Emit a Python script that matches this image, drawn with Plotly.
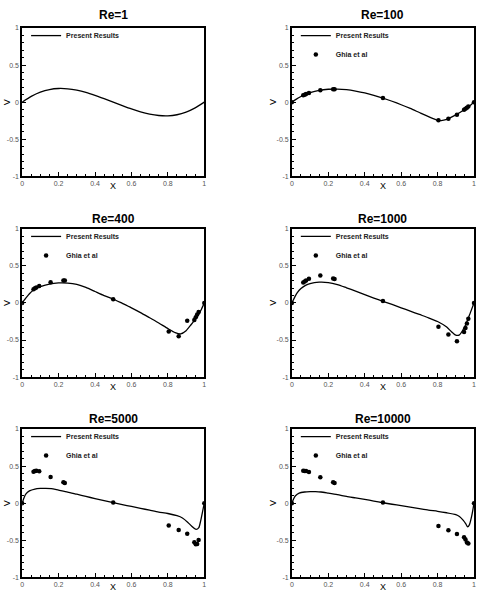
import plotly.graph_objects as go

W, H = 478, 602

# ---------------- data ----------------
titles = ["Re=1", "Re=100", "Re=400", "Re=1000", "Re=5000", "Re=10000"]

# Ghia et al. (1982) v-velocity along horizontal centreline
ghia_x = [1.0000, 0.9688, 0.9609, 0.9531, 0.9453, 0.9063, 0.8594, 0.8047,
          0.5000, 0.2344, 0.2266, 0.1563, 0.0938, 0.0781, 0.0703, 0.0625, 0.0000]
ghia_v100 = [0.0, -0.05906, -0.07391, -0.08864, -0.10313, -0.16914, -0.22445, -0.24533,
             0.05454, 0.17527, 0.17507, 0.16077, 0.12317, 0.10890, 0.10091, 0.09233, 0.0]
ghia_v400 = [0.0, -0.12146, -0.15663, -0.19254, -0.22847, -0.23827, -0.44993, -0.38598,
             0.05188, 0.30174, 0.30203, 0.28124, 0.22965, 0.20920, 0.19713, 0.18360, 0.0]
ghia_v1000 = [0.0, -0.21388, -0.27669, -0.33714, -0.39188, -0.51550, -0.42665, -0.31966,
              0.02526, 0.32235, 0.33075, 0.37095, 0.32627, 0.30353, 0.29012, 0.27485, 0.0]
ghia_v5000 = [0.0, -0.49774, -0.55069, -0.55408, -0.52876, -0.41442, -0.36214, -0.30018,
              0.00945, 0.27280, 0.28066, 0.35368, 0.42951, 0.43648, 0.43329, 0.42447, 0.0]
ghia_v10000 = [0.0, -0.54302, -0.52987, -0.49099, -0.45863, -0.41496, -0.36737, -0.30719,
               0.00831, 0.27224, 0.28188, 0.35060, 0.41824, 0.43184, 0.43487, 0.43733, 0.0]

# Present results
p1_x = [0, 0.05, 0.1, 0.15, 0.2, 0.25, 0.3, 0.35, 0.4, 0.45, 0.5,
        0.55, 0.6, 0.65, 0.7, 0.75, 0.8, 0.85, 0.9, 0.95, 1.0]
p1_v = [0, 0.078, 0.135, 0.17, 0.184, 0.18, 0.162, 0.132, 0.092, 0.047, 0.0,
        -0.047, -0.092, -0.132, -0.162, -0.18, -0.184, -0.17, -0.135, -0.078, 0]

p100_x = [0, 0.025, 0.05, 0.0625, 0.1, 0.15, 0.2, 0.25, 0.3, 0.35, 0.4, 0.45, 0.5,
          0.55, 0.6, 0.65, 0.7, 0.75, 0.8, 0.82, 0.85, 0.9, 0.95, 0.975, 1.0]
p100_v = [0, 0.04, 0.076, 0.092, 0.127, 0.159, 0.174, 0.176, 0.168, 0.15, 0.125, 0.092, 0.055,
          0.012, -0.035, -0.085, -0.14, -0.195, -0.243, -0.248, -0.232, -0.172, -0.095, -0.05, 0]

p400_x = [0, 0.02, 0.04, 0.0625, 0.08, 0.1, 0.15, 0.2, 0.25, 0.3, 0.35, 0.4, 0.45, 0.5,
          0.55, 0.6, 0.65, 0.7, 0.75, 0.8, 0.84, 0.87, 0.9, 0.925, 0.95, 0.97, 0.985, 1.0]
p400_v = [0, 0.065, 0.125, 0.175, 0.2, 0.22, 0.255, 0.27, 0.268, 0.25, 0.21, 0.155, 0.1, 0.054,
          -0.005, -0.065, -0.13, -0.2, -0.27, -0.345, -0.4, -0.418, -0.375, -0.3, -0.22, -0.15, -0.08, 0]

p1000_x = [0, 0.01, 0.02, 0.03, 0.05, 0.075, 0.1, 0.15, 0.2, 0.25, 0.3, 0.35, 0.4, 0.45, 0.5,
           0.55, 0.6, 0.65, 0.7, 0.75, 0.8, 0.85, 0.875, 0.9, 0.92, 0.94, 0.96, 0.98, 1.0]
p1000_v = [0, 0.05, 0.1, 0.14, 0.195, 0.238, 0.262, 0.28, 0.275, 0.248, 0.205, 0.16, 0.112, 0.066, 0.022,
           -0.02, -0.065, -0.11, -0.155, -0.2, -0.25, -0.325, -0.385, -0.435, -0.43, -0.36, -0.26, -0.13, 0]

p5000_x = [0, 0.01, 0.02, 0.04, 0.07, 0.1, 0.13, 0.16, 0.2, 0.25, 0.3, 0.35, 0.4, 0.45, 0.5,
           0.55, 0.6, 0.65, 0.7, 0.75, 0.8, 0.85, 0.88, 0.91, 0.93, 0.955, 0.97, 0.98, 0.99, 1.0]
p5000_v = [0, 0.07, 0.12, 0.165, 0.19, 0.198, 0.2, 0.195, 0.175, 0.15, 0.12, 0.09, 0.062, 0.035, 0.006,
           -0.02, -0.045, -0.07, -0.095, -0.12, -0.14, -0.17, -0.2, -0.26, -0.31, -0.355, -0.33, -0.24, -0.12, 0]

p10000_x = [0, 0.01, 0.02, 0.04, 0.07, 0.1, 0.13, 0.16, 0.2, 0.25, 0.3, 0.35, 0.4, 0.45, 0.5,
            0.55, 0.6, 0.65, 0.7, 0.75, 0.8, 0.85, 0.9, 0.92, 0.94, 0.955, 0.965, 0.975, 0.985, 0.993, 1.0]
p10000_v = [0, 0.06, 0.1, 0.135, 0.15, 0.155, 0.155, 0.15, 0.135, 0.115, 0.09, 0.07, 0.05, 0.028, 0.005,
            -0.015, -0.035, -0.055, -0.075, -0.095, -0.11, -0.13, -0.155, -0.18, -0.23, -0.28, -0.32, -0.29, -0.2, -0.1, 0]

present = [(p1_x, p1_v), (p100_x, p100_v), (p400_x, p400_v),
           (p1000_x, p1000_v), (p5000_x, p5000_v), (p10000_x, p10000_v)]
ghia = [None, ghia_v100, ghia_v400, ghia_v1000, ghia_v5000, ghia_v10000]

x_ticks = [0, 0.2, 0.4, 0.6, 0.8, 1]
x_ticklabels = ["0", "0.2", "0.4", "0.6", "0.8", "1"]
y_ticks = [-1, -0.5, 0, 0.5, 1]
y_ticklabels = ["-1", "-0.5", "0", "0.5", "1"]
x_title = "X"
y_title = "V"

# ---------------- layout geometry (pixels) ----------------
col_px = [(20.3, 204.0), (292.3, 476.0)]
row_px = [(24.3, 174.3), (227.5, 377.5), (430.0, 580.0)]
title_shift = [13, 10, 10]
vshift = [-15, -19]
FONT = "Liberation Sans, Arial, sans-serif"

fig = go.Figure()
layout = dict(
    width=W, height=H, margin=dict(l=0, r=0, t=0, b=0),
    paper_bgcolor="white", plot_bgcolor="white",
    font=dict(family=FONT, color="black"),
    annotations=[],
)

for i in range(6):
    r, c = divmod(i, 2)
    n = i + 1
    xa = "x" if n == 1 else f"x{n}"
    ya = "y" if n == 1 else f"y{n}"
    lg = "legend" if n == 1 else f"legend{n}"
    x0, x1 = col_px[c]
    yt, yb = row_px[r]
    xdom = [x0 / W, x1 / W]
    ydom = [1 - yb / H, 1 - yt / H]

    px, pv = present[i]
    fig.add_trace(go.Scatter(
        x=px, y=pv, mode="lines", name="Present Results",
        line=dict(color="black", width=1.3, shape="spline", smoothing=0.6),
        xaxis=xa, yaxis=ya, legend=lg, showlegend=True))
    if ghia[i] is not None:
        fig.add_trace(go.Scatter(
            x=ghia_x, y=ghia[i], mode="markers", name="Ghia et al",
            marker=dict(color="black", size=4.5, symbol="circle"),
            xaxis=xa, yaxis=ya, legend=lg, showlegend=True))

    axis_common = dict(
        showline=True, linecolor="black", linewidth=1.6, mirror=True,
        showgrid=False, zeroline=False, ticks="inside", tickcolor="black",
        tickwidth=1, ticklen=4,
        tickfont=dict(size=7, color="#555555", family=FONT),
    )
    layout["xaxis" if n == 1 else f"xaxis{n}"] = dict(
        axis_common, domain=xdom, range=[0, 1], anchor=ya,
        tickvals=x_ticks, ticktext=x_ticklabels,
        minor=dict(dtick=0.05, tick0=0, ticks="inside", ticklen=2, tickcolor="black", tickwidth=1),
    )
    layout["yaxis" if n == 1 else f"yaxis{n}"] = dict(
        axis_common, domain=ydom, range=[-1, 1], anchor=xa,
        tickvals=y_ticks, ticktext=y_ticklabels,
        minor=dict(dtick=0.1, tick0=0, ticks="inside", ticklen=2, tickcolor="black", tickwidth=1),
    )
    layout[lg] = dict(
        x=(x0 + 4) / W, y=1 - (yt - 7) / H, xanchor="left", yanchor="top",
        xref="paper", yref="paper",
        bgcolor="rgba(0,0,0,0)", borderwidth=0,
        font=dict(size=7, color="#222222", family=FONT, weight="bold"),
        tracegroupgap=0, itemwidth=30,
    )
    layout["annotations"].append(dict(
        text=f"<b>{titles[i]}</b>", xref=f"{xa} domain", yref=f"{ya} domain",
        x=0.5, y=1, xanchor="center", yanchor="middle", yshift=title_shift[r],
        showarrow=False, font=dict(size=12, color="black", family=FONT),
    ))
    # axis titles
    layout["annotations"].append(dict(
        text=x_title, xref=f"{xa} domain", yref=f"{ya} domain",
        x=0.5, y=0, xanchor="center", yanchor="middle", yshift=-10,
        showarrow=False, font=dict(size=9, color="black", family=FONT),
    ))
    layout["annotations"].append(dict(
        text=y_title, xref=f"{xa} domain", yref=f"{ya} domain",
        x=0, y=0.5, xanchor="center", yanchor="middle", xshift=vshift[c], textangle=-90,
        showarrow=False, font=dict(size=9, color="black", family=FONT),
    ))

fig.update_layout(**layout)
fig.write_html("out.html")
